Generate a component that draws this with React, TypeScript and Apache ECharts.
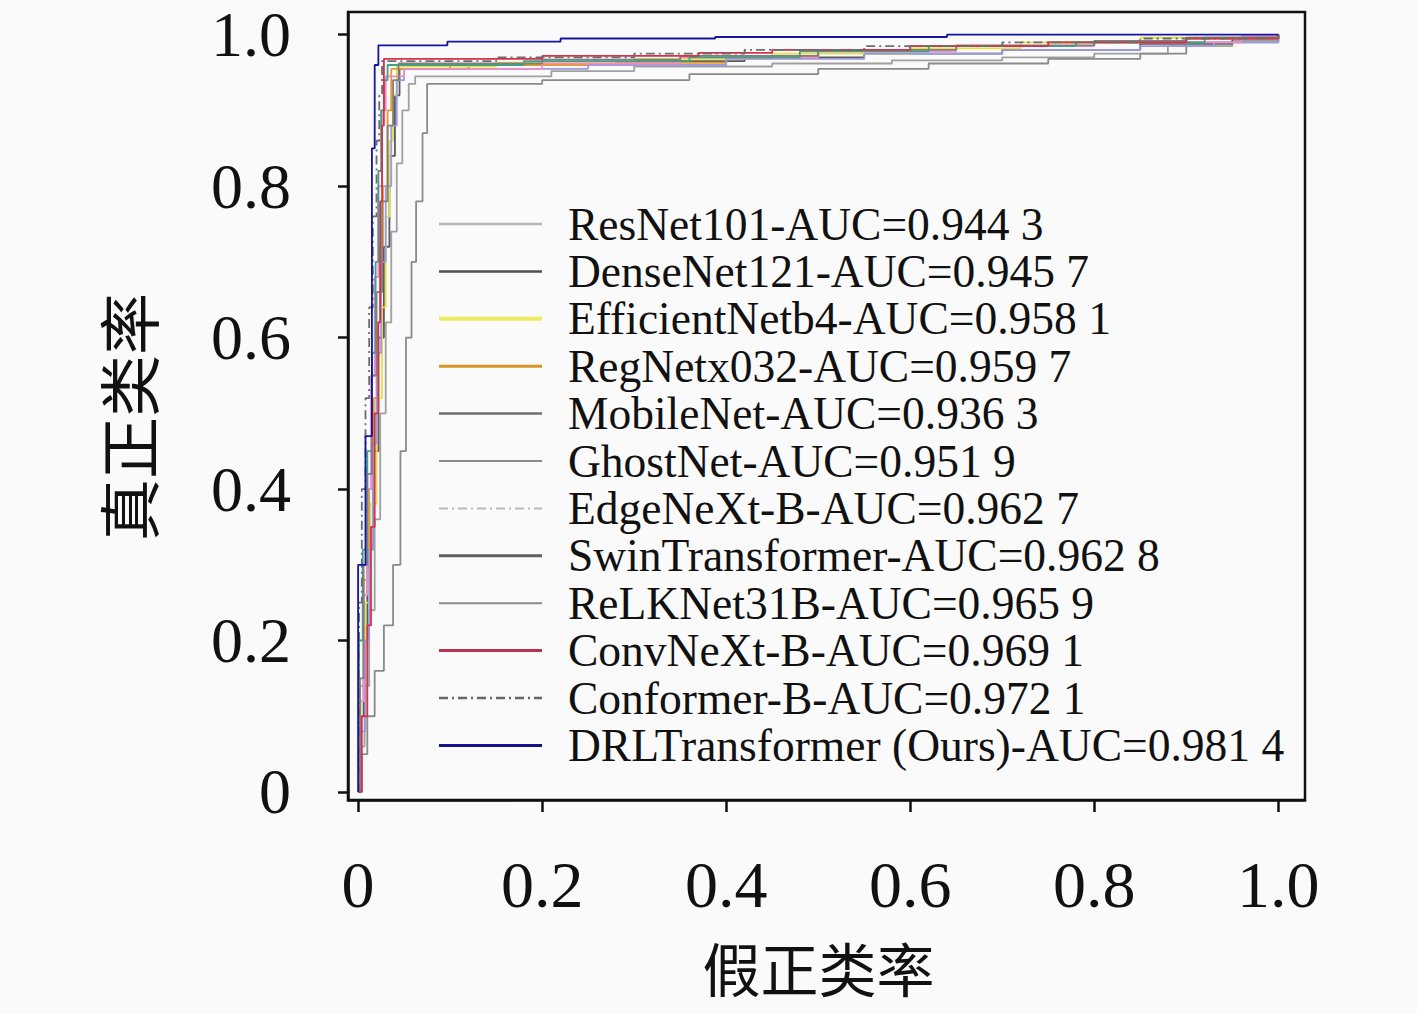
import React, { useEffect, useRef } from "react";
import * as echarts from "echarts";

const xTicks = [0, 0.2, 0.4, 0.6, 0.8, 1.0];
const yTicks = [0, 0.2, 0.4, 0.6, 0.8, 1.0];

const modelNames = [
  "ResNet101-AUC=0.944 3",
  "DenseNet121-AUC=0.945 7",
  "EfficientNetb4-AUC=0.958 1",
  "RegNetx032-AUC=0.959 7",
  "MobileNet-AUC=0.936 3",
  "GhostNet-AUC=0.951 9",
  "EdgeNeXt-B-AUC=0.962 7",
  "SwinTransformer-AUC=0.962 8",
  "ReLKNet31B-AUC=0.965 9",
  "ConvNeXt-B-AUC=0.969 1",
  "Conformer-B-AUC=0.972 1",
  "DRLTransformer (Ours)-AUC=0.981 4",
];

// ROC points [fpr, tpr] (each point = top of a rise at that fpr)
const resnet101 = [[0,0],[0.003,0.06],[0.007,0.14],[0.012,0.24],[0.018,0.36],[0.024,0.5],[0.03,0.62],[0.036,0.74],[0.042,0.83],[0.048,0.9],[0.055,0.935],[0.062,0.945],[0.21,0.952],[0.3,0.958],[0.45,0.962],[0.58,0.966],[0.7,0.97],[0.8,0.975],[0.88,0.985],[0.95,0.992],[1,1]];
const densenet121 = [[0,0],[0.002,0.1],[0.006,0.2],[0.01,0.32],[0.016,0.45],[0.022,0.6],[0.028,0.72],[0.034,0.84],[0.04,0.92],[0.045,0.955],[0.12,0.96],[0.3,0.965],[0.42,0.97],[0.55,0.975],[0.7,0.98],[0.85,0.988],[0.95,0.995],[1,1]];
const efficientnetb4 = [[0,0],[0.003,0.12],[0.008,0.25],[0.013,0.38],[0.02,0.52],[0.026,0.64],[0.03,0.76],[0.034,0.86],[0.038,0.92],[0.042,0.958],[0.15,0.963],[0.3,0.968],[0.45,0.975],[0.6,0.982],[0.72,0.99],[0.85,0.996],[1,1]];
const regnetx032 = [[0,0],[0.002,0.14],[0.006,0.28],[0.012,0.4],[0.017,0.52],[0.021,0.62],[0.024,0.72],[0.027,0.8],[0.032,0.9],[0.036,0.955],[0.1,0.96],[0.28,0.963],[0.4,0.972],[0.5,0.98],[0.6,0.985],[0.75,0.99],[0.9,0.995],[1,1]];
const mobilenet = [[0,0],[0.004,0.05],[0.01,0.1],[0.018,0.16],[0.028,0.22],[0.038,0.3],[0.046,0.45],[0.052,0.6],[0.058,0.7],[0.063,0.78],[0.07,0.87],[0.075,0.935],[0.2,0.94],[0.36,0.948],[0.5,0.955],[0.62,0.962],[0.75,0.968],[0.85,0.975],[0.9,0.99],[1,1]];
const ghostnet = [[0,0],[0.003,0.08],[0.008,0.2],[0.012,0.32],[0.016,0.46],[0.02,0.58],[0.025,0.7],[0.03,0.8],[0.036,0.88],[0.042,0.94],[0.05,0.955],[0.25,0.96],[0.4,0.968],[0.55,0.975],[0.7,0.98],[0.85,0.985],[0.93,0.99],[1,1]];
const edgenextB = [[0,0],[0.002,0.12],[0.006,0.26],[0.01,0.4],[0.014,0.55],[0.018,0.68],[0.022,0.8],[0.026,0.9],[0.03,0.945],[0.05,0.955],[0.2,0.962],[0.35,0.97],[0.5,0.978],[0.65,0.985],[0.8,0.99],[0.96,0.998],[1,1]];
const swinTransformer = [[0,0],[0.001,0.2],[0.005,0.32],[0.01,0.45],[0.015,0.58],[0.019,0.7],[0.022,0.82],[0.025,0.9],[0.028,0.94],[0.032,0.96],[0.18,0.965],[0.36,0.97],[0.48,0.978],[0.62,0.985],[0.78,0.99],[0.92,0.996],[1,1]];
const relknet31B = [[0,0],[0.002,0.15],[0.006,0.3],[0.01,0.42],[0.015,0.55],[0.02,0.66],[0.026,0.78],[0.032,0.88],[0.038,0.94],[0.044,0.962],[0.2,0.967],[0.35,0.972],[0.5,0.98],[0.65,0.986],[0.8,0.992],[0.9,0.996],[1,1]];
const convnextB = [[0,0],[0.004,0.1],[0.01,0.22],[0.014,0.35],[0.018,0.5],[0.022,0.62],[0.024,0.78],[0.026,0.88],[0.028,0.968],[0.2,0.972],[0.37,0.976],[0.45,0.98],[0.6,0.985],[0.75,0.99],[0.9,0.995],[1,1]];
const conformerB = [[0,0],[0.001,0.25],[0.004,0.4],[0.008,0.52],[0.012,0.64],[0.016,0.76],[0.02,0.86],[0.023,0.92],[0.026,0.965],[0.15,0.97],[0.3,0.975],[0.42,0.98],[0.55,0.985],[0.7,0.99],[0.85,0.995],[1,1]];
const drlTransformer = [[0,0],[0,0.30],[0.008,0.47],[0.015,0.85],[0.018,0.96],[0.022,0.986],[0.097,0.991],[0.22,0.995],[0.388,0.997],[0.64,1.0],[1,1]];

const seriesData = [
  resnet101, densenet121, efficientnetb4, regnetx032, mobilenet, ghostnet,
  edgenextB, swinTransformer, relknet31B, convnextB, conformerB, drlTransformer,
];

const dashDot = [9, 4, 2, 4];

// plot line styles
const plotColors = ["#a0a0a0", "#5a5a5a", "#e2e24a", "#e39a2f", "#8a8a8a", "#9b9bde", "#f08cc8", "#3aa38a", "#7f7f7f", "#d6304a", "#6d6d6d", "#1414a0"];
const plotTypes: any[] = ["solid", "solid", "solid", "solid", "solid", "solid", "solid", "solid", "solid", "solid", dashDot, "solid"];
// legend sample styles
const legendColors = ["#b4b4b4", "#505050", "#ecec60", "#d9952a", "#707070", "#8c8c8c", "#bababa", "#5f5f5f", "#8a8a8a", "#b8324f", "#666666", "#14148c"];
const legendWidths = [2.5, 2.5, 4, 3, 2.5, 2, 2, 3, 2, 3, 2.5, 3];
const legendTypes: any[] = ["solid", "solid", "solid", "solid", "solid", "solid", dashDot, "solid", "solid", "solid", dashDot, "solid"];

export default function App() {
  const ref = useRef<HTMLDivElement>(null);
  useEffect(() => {
    if (!ref.current) return;
    const chart = echarts.init(ref.current, null, { renderer: "svg" });
    const tickFmt = (v: number) => (Math.abs(v) < 1e-9 ? "0" : v.toFixed(1));
    const option: any = {
      animation: false,
      backgroundColor: "#fafafa",
      grid: {
        left: 348, right: 112, top: 12, bottom: 214,
        show: true, borderColor: "#111", borderWidth: 2.5, backgroundColor: "transparent",
      },
      legend: {
        orient: "vertical",
        left: 437, top: 201,
        padding: 0,
        itemWidth: 103, itemHeight: 14, itemGap: 1.4,
        selectedMode: false,
        textStyle: {
          fontFamily: "Liberation Serif", fontSize: 45.5, color: "#111",
          padding: [0, 0, 0, 21],
        },
        data: modelNames.map((n, i) => ({
          name: n,
          itemStyle: { color: "rgba(0,0,0,0)", opacity: 0, borderWidth: 0 },
          lineStyle: { color: legendColors[i], width: legendWidths[i], type: legendTypes[i], opacity: 1 },
        })),
      },
      xAxis: {
        type: "value", min: -0.011, max: 1.029,
        name: "假正类率", nameLocation: "middle", nameGap: 138,
        nameTextStyle: { fontFamily: "Noto Sans CJK SC", fontSize: 58, lineHeight: 58, color: "#111", padding: [0, 16, 0, 0] },
        axisLine: { show: true, onZero: false, lineStyle: { color: "#111", width: 2.5 } },
        axisTick: { show: true, inside: false, length: 12, customValues: xTicks, lineStyle: { color: "#111", width: 2.5 } },
        axisLabel: { customValues: xTicks, formatter: tickFmt, margin: 51, lineHeight: 66, fontFamily: "Liberation Serif", fontSize: 66, color: "#111" },
        splitLine: { show: false },
      },
      yAxis: {
        type: "value", min: -0.0106, max: 1.03,
        name: "真正类率", nameLocation: "middle", nameGap: 190,
        nameTextStyle: { fontFamily: "Noto Sans CJK SC", fontSize: 62, color: "#111", padding: [0, 22, 0, 0] },
        axisLine: { show: true, onZero: false, lineStyle: { color: "#111", width: 2.5 } },
        axisTick: { show: true, inside: false, length: 10, customValues: yTicks, lineStyle: { color: "#111", width: 2.5 } },
        axisLabel: { customValues: yTicks, formatter: tickFmt, margin: 57, lineHeight: 64, fontFamily: "Liberation Serif", fontSize: 64, color: "#111" },
        splitLine: { show: false },
      },
      series: modelNames.map((n, i) => ({
        name: n,
        type: "line",
        step: "end",
        symbol: "none",
        data: seriesData[i],
        z: i === 11 ? 5 : 2,
        lineStyle: { color: plotColors[i], width: 1.8, type: plotTypes[i] },
        itemStyle: { color: plotColors[i] },
      })),
    };
    chart.setOption(option);
    return () => chart.dispose();
  }, []);
  return (
    <div
      ref={ref}
      style={{ position: "fixed", left: 0, top: 0, width: 1417, height: 1014, background: "#fafafa" }}
    />
  );
}
